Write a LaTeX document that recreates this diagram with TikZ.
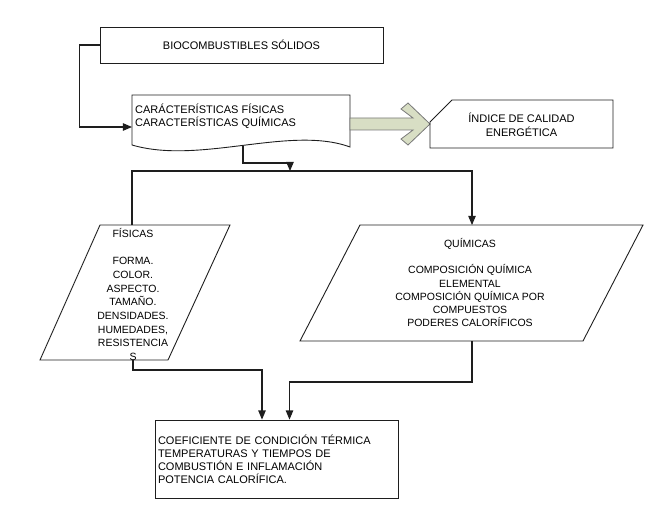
\documentclass[tikz,border=0pt]{standalone}
\usepackage{fontspec}
\setmainfont{Liberation Sans}
\usepackage{tikz}
\usetikzlibrary{arrows}
\definecolor{sage}{RGB}{216, 222, 196}
\definecolor{ash}{RGB}{120, 120, 120}
\definecolor{ink}{RGB}{30, 30, 30}

\begin{document}
\begin{tikzpicture}[x=1pt, y=-1pt, >=triangle 45,
        font=\fontsize{11}{13}\selectfont,
        shape line/.style={draw=ink, line width=0.9pt},
        flow/.style={draw=ink, line width=1.1pt, ->},
        box/.style={shape line, rectangle, inner sep=3pt}]
    \useasboundingbox (0,0) rectangle (666,513);
    % Source
    \node[box, minimum width=283, minimum height=36] (bio) at (241.5, 45.0) {BIOCOMBUSTIBLES SÓLIDOS};
    % Document shape
    \draw[shape line] (132, 95) -- (350, 95) -- (350,147)
         .. controls (290,125) and (200,165) .. (132,145) -- cycle;
    \node[anchor=west, align=left, inner sep=0pt] (doctxt) at (135,116.5)
         {CARÁCTERÍSTICAS FÍSICAS\\CARACTERÍSTICAS QUÍMICAS};
    \coordinate (docin)  at (132,127);
    \coordinate (docout) at (243,146);
    % Wide arrow & index card
    \filldraw[draw=ash, fill=sage, line width=0.8pt]
         (350,118) -- (413,118) -- (401,109) -- (408,103) -- (430,124)
         -- (408,145) -- (401,139) -- (413,130) -- (350,130) -- cycle;
    \draw[shape line] (452,100) -- (613,100) -- (613,148) -- (430,148) -- (430,122) -- cycle;
    \node[align=center, inner sep=0pt, font=\fontsize{11}{14}\selectfont] (idxtxt) at (521.5,125)
         {ÍNDICE DE CALIDAD\\ENERGÉTICA};
    % Physical
    \draw[shape line] (100,225) -- (230,225) -- (168,360) -- ( 40,360) -- cycle;
    \node[align=center, inner sep=0pt, font=\fontsize{10.5}{13.7}\selectfont] (fistxt) at (133,294.5)
         {FÍSICAS\\[13.7pt]FORMA.\\COLOR.\\ASPECTO.\\TAMAÑO.\\DENSIDADES.\\HUMEDADES,\\RESISTENCIA\\S};
    \coordinate (fisin)  at (132,225);
    \coordinate (fisout) at (133,360);
    % Chemical
    \draw[shape line] (360,225) -- (643,225) -- (583,341) -- (300,341) -- cycle;
    \node[align=center, inner sep=0pt, font=\fontsize{10.5}{13.2}\selectfont] (quimtxt) at (470,282.5)
         {QUÍMICAS\\[13.2pt]COMPOSICIÓN QUÍMICA\\ELEMENTAL\\COMPOSICIÓN QUÍMICA POR\\COMPUESTOS\\PODERES CALORÍFICOS};
    \coordinate (quimin)  at (472,225);
    \coordinate (quimout) at (472,341);
    % Result
    \node[box, minimum width=243, minimum height=78, text width=237, align=left] (final) at (276.5,459)
         {COEFICIENTE DE CONDICIÓN TÉRMICA\\TEMPERATURAS Y TIEMPOS DE\\COMBUSTIÓN E INFLAMACIÓN\\POTENCIA CALORÍFICA.};
    % Connectors
    \coordinate (split) at (290,171);
    \draw[flow] (bio.west) -- ++(-20,0) |- (docin);
    \draw[flow] (docout) -- ++(0,17) -| (split);
    \draw[flow] (fisin) -- (fisin |- split) -- (quimin |- split) -- (quimin);
    \draw[flow] (fisout) -- ++(0,10) -| ([xshift=-14.5pt]final.north);
    \draw[flow] (quimout) -- ++(0,41) -| ([xshift=13pt]final.north);
\end{tikzpicture}
\end{document}
